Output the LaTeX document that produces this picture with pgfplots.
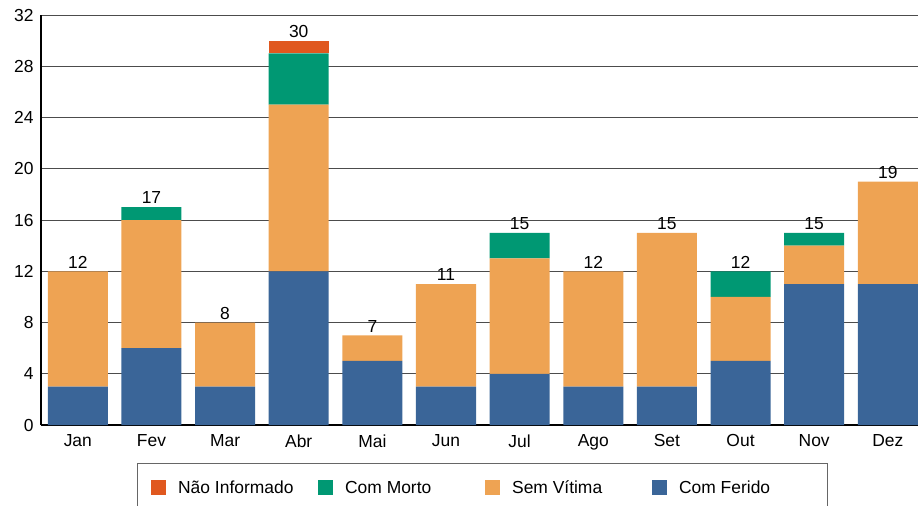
\documentclass[border=0pt]{standalone}
\usepackage{fontspec}
\setmainfont{Liberation Sans}
\usepackage{pgfplots}
\pgfplotsset{compat=1.18}
\definecolor{cFer}{HTML}{3A6598}
\definecolor{cSem}{HTML}{EEA353}
\definecolor{cMor}{HTML}{009873}
\definecolor{cNao}{HTML}{E0581F}
\pgfplotsset{commonax/.style={
  at={(0,0)}, anchor=south west,
  scale only axis, width=877bp, height=410bp,
  bar width=0.815,
  xmin=-0.5, xmax=11.41, ymin=0, ymax=32}}
\begin{document}
\begin{tikzpicture}
\path[use as bounding box] (-41bp,-81bp) rectangle (877bp,425bp);
\begin{axis}[
  commonax,
  ybar stacked,
  xtick={0,...,11},
  xticklabels={Jan,Fev,Mar,Abr,Mai,Jun,Jul,Ago,Set,Out,Nov,Dez},
  ytick={0,4,...,32},
  axis x line*=bottom, axis y line*=left,
  ymajorgrids, major grid style={black!70, line width=0.8bp},
  axis line style={black, line width=1.3bp},
  major tick length=0pt,
  tick label style={font=\fontsize{17.5}{20}\selectfont},
  /pgf/number format/assume math mode=true,
  xticklabel style={yshift=-6bp},
  yticklabel style={xshift=-4bp},
  legend columns=4, reverse legend, legend cell align=left,
  legend image code/.code={\fill[#1,draw=none] (0bp,-7.5bp) rectangle (15bp,7.5bp); \path (25bp,0bp);},
  legend style={at={(0.503,-0.0927)}, anchor=north, draw=black!60, line width=0.8bp,
    font=\fontsize{17.5}{20}\selectfont, inner xsep=14bp, inner ysep=14bp,
    /tikz/every even column/.style={column sep=6bp}},
]
\addplot[fill=cFer, draw=none] coordinates {(0,3) (1,6) (2,3) (3,12) (4,5) (5,3) (6,4) (7,3) (8,3) (9,5) (10,11) (11,11)};
\addlegendentry{\makebox[132bp][l]{Com Ferido\strut}}
\addplot[fill=cSem, draw=none] coordinates {(0,9) (1,10) (2,5) (3,13) (4,2) (5,8) (6,9) (7,9) (8,12) (9,5) (10,3) (11,8)};
\addlegendentry{\makebox[132bp][l]{Sem Vítima\strut}}
\addplot[fill=cMor, draw=none] coordinates {(0,0) (1,1) (2,0) (3,4) (4,0) (5,0) (6,2) (7,0) (8,0) (9,2) (10,1) (11,0)};
\addlegendentry{\makebox[132bp][l]{Com Morto\strut}}
\addplot[fill=cNao, draw=none] coordinates {(0,0) (1,0) (2,0) (3,1) (4,0) (5,0) (6,0) (7,0) (8,0) (9,0) (10,0) (11,0)};
\addlegendentry{\makebox[132bp][l]{Não Informado\strut}}
\end{axis}
\begin{axis}[
  commonax, ybar, hide axis, clip=false,
  nodes near coords, point meta=explicit symbolic,
  every node near coord/.append style={font=\fontsize{17.5}{20}\selectfont, anchor=south, inner sep=3bp, text=black},
]
\addplot[draw=none, fill=none] coordinates {(0,12)[12] (1,17)[17] (2,8)[8] (3,30)[30] (4,7)[7] (5,11)[11] (6,15)[15] (7,12)[12] (8,15)[15] (9,12)[12] (10,15)[15] (11,19)[19]};
\end{axis}
\end{tikzpicture}
\end{document}
